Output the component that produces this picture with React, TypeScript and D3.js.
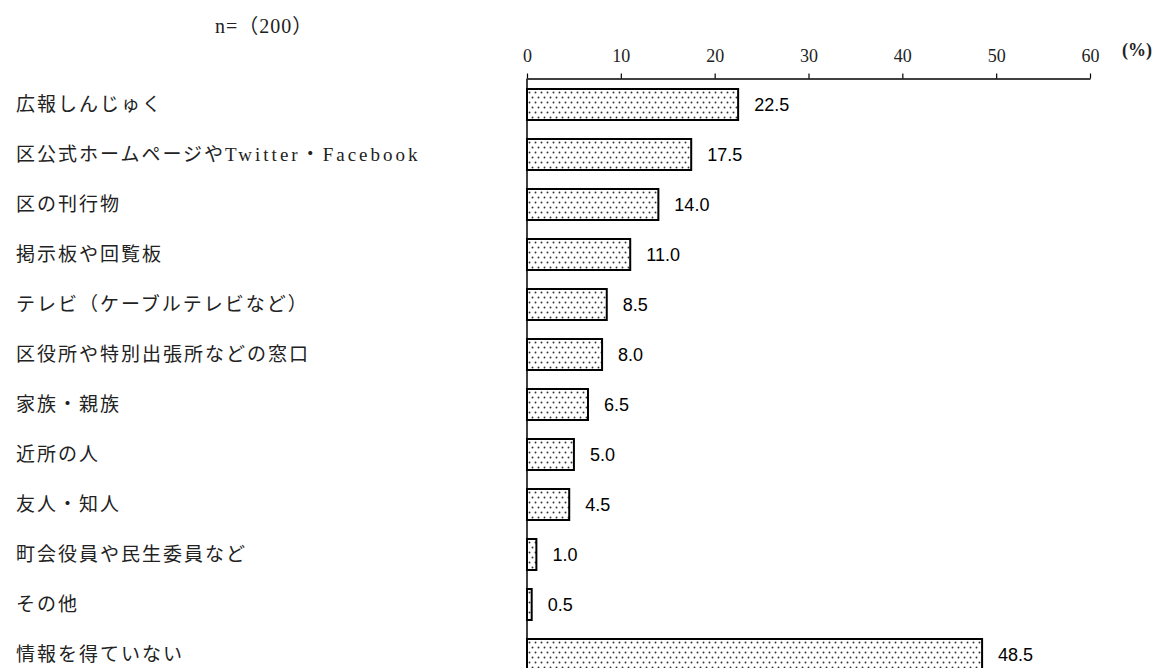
import React from 'react';
import * as d3 from 'd3';

const categories = [
  '広報しんじゅく',
  '区公式ホームページやTwitter・Facebook',
  '区の刊行物',
  '掲示板や回覧板',
  'テレビ（ケーブルテレビなど）',
  '区役所や特別出張所などの窓口',
  '家族・親族',
  '近所の人',
  '友人・知人',
  '町会役員や民生委員など',
  'その他',
  '情報を得ていない',
];
const values = [22.5, 17.5, 14.0, 11.0, 8.5, 8.0, 6.5, 5.0, 4.5, 1.0, 0.5, 48.5];
const ticks = [0, 10, 20, 30, 40, 50, 60];
const sampleLabel = 'n=（200）';

const W = 1155;
const H = 668;

const App: React.FC = () => {
  const svgRef = React.useRef<SVGSVGElement>(null);

  React.useEffect(() => {
    if (!svgRef.current) return;
    const svg = d3.select(svgRef.current);
    svg.selectAll('*').remove();

    const axisY = 78.5;
    const x = d3.scaleLinear().domain([0, 60]).range([527, 1090]);
    const y = d3.scaleBand()
      .domain(categories)
      .range([axisY + 1, axisY + 601])
      .paddingInner(0.38)
      .paddingOuter(0.19);

    // dotted fill
    const defs = svg.append('defs');
    const pat = defs.append('pattern')
      .attr('id', 'dots')
      .attr('patternUnits', 'userSpaceOnUse')
      .attr('width', 6)
      .attr('height', 10);
    pat.append('rect').attr('width', 6).attr('height', 10).attr('fill', '#fff');
    pat.append('circle').attr('cx', 1.5).attr('cy', 2.5).attr('r', 0.95).attr('fill', '#333');
    pat.append('circle').attr('cx', 4.5).attr('cy', 7.5).attr('r', 0.95).attr('fill', '#333');

    svg.append('text')
      .attr('x', 215)
      .attr('y', 33)
      .style('font-family', "'Liberation Serif', 'Noto Sans CJK JP'")
      .style('font-size', '20px')
      .style('letter-spacing', '1px')
      .style('fill', '#222')
      .text(sampleLabel);

    // X axis on top
    const axis = svg.append('g')
      .attr('transform', `translate(0,${axisY})`)
      .call(d3.axisTop(x).tickValues(ticks).tickSize(5).tickSizeOuter(0).tickFormat(d3.format('d')));
    axis.select('.domain').attr('stroke', '#000').attr('stroke-width', 1.5);
    axis.selectAll('.tick line').attr('stroke', '#000').attr('stroke-width', 1.2);
    axis.selectAll('.tick text')
      .attr('dy', '-0.45em')
      .style('font-family', "'Liberation Serif', serif")
      .style('font-size', '18px')
      .style('fill', '#222');

    svg.append('text')
      .attr('x', 1122)
      .attr('y', 56)
      .attr('text-anchor', 'start')
      .style('font-family', "'Liberation Serif', serif")
      .style('font-size', '18px')
      .style('font-weight', 'bold')
      .style('fill', '#222')
      .text('(%)');

    // bars
    svg.append('g')
      .selectAll('rect')
      .data(values)
      .join('rect')
      .attr('x', x(0))
      .attr('y', (_, i) => y(categories[i])!)
      .attr('width', d => x(d) - x(0))
      .attr('height', y.bandwidth())
      .attr('fill', 'url(#dots)')
      .attr('stroke', '#000')
      .attr('stroke-width', 2);

    // vertical axis line
    svg.append('line')
      .attr('x1', x(0)).attr('x2', x(0))
      .attr('y1', axisY).attr('y2', H)
      .attr('stroke', '#000')
      .attr('stroke-width', 1.5);

    // values
    svg.append('g')
      .selectAll('text')
      .data(values)
      .join('text')
      .attr('x', d => x(d) + 16)
      .attr('y', (_, i) => y(categories[i])! + y.bandwidth() / 2)
      .attr('dy', '0.36em')
      .style('font-family', "'Liberation Sans', Arial, sans-serif")
      .style('font-size', '18px')
      .style('fill', '#000')
      .text(d => d.toFixed(1));

    // category labels
    const labels = svg.append('g')
      .selectAll('text')
      .data(categories)
      .join('text')
      .attr('x', 16)
      .attr('y', d => y(d)! + y.bandwidth() / 2)
      .attr('dy', '0.36em')
      .style('font-family', "'Liberation Serif', 'Noto Sans CJK JP'")
      .style('font-size', '19px')
      .style('letter-spacing', '2px')
      .style('fill', '#222');

    labels.each(function (d) {
      const t = d3.select(this);
      const m = d.match(/^(.*?)([A-Za-z].*)$/);
      if (m) {
        t.append('tspan').text(m[1]);
        t.append('tspan').style('letter-spacing', '3px').text(m[2]);
      } else {
        t.text(d);
      }
    });
  }, []);

  return (
    <div style={{ position: 'absolute', left: 0, top: 0, background: '#fff' }}>
      <svg ref={svgRef} width={W} height={H} viewBox={`0 0 ${W} ${H}`} style={{ display: 'block' }} />
    </div>
  );
};

export default App;
